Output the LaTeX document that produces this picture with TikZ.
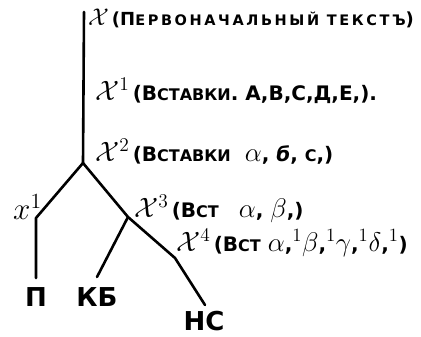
\documentclass[tikz,border=0pt]{standalone}
\usepackage{graphicx}
\usepackage{fontspec}
\setmainfont{DejaVu Sans}
\newcommand\smc[1]{{\fontsize{16}{16}\selectfont #1}}
\newcommand\smt[1]{{\fontsize{14.5}{14.5}\selectfont\addfontfeature{LetterSpace=18}#1}}
\newcommand\mX[1]{\scalebox{1.35}{$\mathcal{X}^{#1}$}}
\newcommand\gr[1]{\scalebox{1.3}{$#1$}}
\tikzset{
  lbl/.style={anchor=west, inner sep=0pt, font=\fontsize{20}{20}\selectfont\bfseries},
  leaf/.style={inner sep=0pt, font=\fontsize{26}{26}\selectfont\bfseries},
  branch/.style={line width=2.6pt, line cap=round, line join=round}
}
\begin{document}
\begin{tikzpicture}[x=1pt,y=-1pt]
\useasboundingbox (0,0) rectangle (421,337);
% tree points
\coordinate (top) at (84,12);
\coordinate (j) at (83,163);
\coordinate (l1) at (36,218);
\coordinate (l2) at (36,278);
\coordinate (k) at (128,217);
\coordinate (kb) at (97,277);
\coordinate (m) at (175,258);
\coordinate (ns) at (205,305);
\draw[branch] (top) -- (j);
\draw[branch] (j) -- (l1) -- (l2);
\draw[branch] (j) -- (k) -- (m) -- (ns);
\draw[branch] (k) -- (kb);
% labels
\node[lbl, font=\fontsize{18}{18}\selectfont\bfseries] (t0) at (88,18) {\scalebox{1.4}{$\mathcal{X}$}\,(П\smt{ЕРВОНАЧАЛЬНЫЙ ТЕКСТЪ})};
\node[lbl] (t1) at (95,91) {\mX{1}\,(В\smc{СТАВКИ}. А,В,С,Д,Е,).};
\node[lbl] (t2) at (95,152) {\mX{2}\,(В\smc{СТАВКИ}\ \ \gr{\alpha}, \textit{б}, \smc{С},)};
\node[lbl] (t3) at (134,209) {\mX{3}\,(В\smc{СТ}\quad\gr{\alpha}, \gr{\beta},)};
\node[lbl] (t4) at (176,243) {\mX{4}\,(В\smc{СТ} \gr{\alpha},\gr{^1\beta},\gr{^1\gamma},\gr{^1\delta},\gr{^1})};
\node[lbl] (x1) at (13,207) {\scalebox{1.5}{$x^1$}};
\node[leaf] (p) at (36,297) {П};
\node[leaf] (kbl) at (97,297) {КБ};
\node[leaf] (nsl) at (204,321) {НС};
\end{tikzpicture}
\end{document}
